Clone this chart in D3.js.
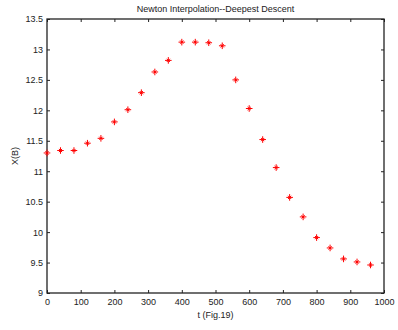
<!DOCTYPE html>
<html>
<head>
<meta charset="utf-8">
<script src="https://cdn.jsdelivr.net/npm/d3@7"></script>
<style>
  body { margin: 0; background: #fff; }
  svg text { font-family: "Liberation Sans", Arial, sans-serif; fill: #222; }
</style>
</head>
<body>
<div id="chart"></div>
<script>
// data
var tValues = [0, 40, 80, 120, 160, 200, 240, 280, 320, 360, 400, 440, 480,
               520, 560, 600, 640, 680, 720, 760, 800, 840, 880, 920, 960];
var xbValues = [11.30, 11.34, 11.34, 11.46, 11.54, 11.81, 12.01, 12.29, 12.63, 12.82, 13.12, 13.12, 13.11,
                13.06, 12.50, 12.03, 11.52, 11.06, 10.57, 10.25, 9.91, 9.74, 9.56, 9.51, 9.46];
var xTicks = [0, 100, 200, 300, 400, 500, 600, 700, 800, 900, 1000];
var yTicks = [9, 9.5, 10, 10.5, 11, 11.5, 12, 12.5, 13, 13.5];

var W = 398, H = 330;
var margin = {top: 19, right: 14, bottom: 37, left: 47};
var width = W - margin.left - margin.right,
    height = H - margin.top - margin.bottom;

var svg = d3.select("#chart").append("svg")
    .attr("width", W)
    .attr("height", H);

var g = svg.append("g")
    .attr("transform", "translate(" + margin.left + "," + margin.top + ")");

var x = d3.scaleLinear().domain([0, 1000]).range([0, width]);
var y = d3.scaleLinear().domain([9, 13.5]).range([height, 0]);

// bottom / left axes with labels, ticks pointing inward
g.append("g")
    .attr("transform", "translate(0," + height + ")")
    .call(d3.axisBottom(x).tickValues(xTicks).tickFormat(d3.format("")).tickSizeInner(-3).tickSizeOuter(0).tickPadding(6));
g.append("g")
    .call(d3.axisLeft(y).tickValues(yTicks).tickFormat(d3.format("")).tickSizeInner(-3).tickSizeOuter(0).tickPadding(4));
// top / right ticks, no labels
g.append("g")
    .call(d3.axisTop(x).tickValues(xTicks).tickSizeInner(-3).tickSizeOuter(0).tickFormat(""));
g.append("g")
    .attr("transform", "translate(" + width + ",0)")
    .call(d3.axisRight(y).tickValues(yTicks).tickSizeInner(-3).tickSizeOuter(0).tickFormat(""));

g.selectAll(".domain").remove();
g.selectAll(".tick line").attr("stroke", "#222");
g.selectAll(".tick text").style("font-size", "9px");

g.append("rect")
    .attr("width", width)
    .attr("height", height)
    .attr("fill", "none")
    .attr("stroke", "#222")
    .attr("stroke-width", 1.3);

// markers: MATLAB-style '*'
var pts = g.selectAll(".pt")
    .data(tValues.map(function(t, i){ return {t: t, v: xbValues[i]}; }))
    .enter().append("g")
    .attr("class", "pt")
    .attr("transform", function(d){ return "translate(" + x(d.t) + "," + y(d.v) + ")"; });

var r = 3.3, rd = 1.6;
pts.append("path")
    .attr("d", "M" + (-r) + ",0H" + r + "M0," + (-r) + "V" + r +
               "M" + (-rd) + "," + (-rd) + "L" + rd + "," + rd +
               "M" + (-rd) + "," + rd + "L" + rd + "," + (-rd))
    .attr("stroke", "#f00")
    .attr("stroke-width", 1)
    .attr("fill", "none");

// title and axis labels
svg.append("text")
    .attr("x", margin.left + width / 2)
    .attr("y", 12)
    .attr("text-anchor", "middle")
    .style("font-size", "9px")
    .text("Newton Interpolation--Deepest Descent");

svg.append("text")
    .attr("x", margin.left + width / 2)
    .attr("y", 318)
    .attr("text-anchor", "middle")
    .style("font-size", "9px")
    .text("t (Fig.19)");

svg.append("text")
    .attr("transform", "translate(18," + (margin.top + height / 2) + ") rotate(-90)")
    .attr("text-anchor", "middle")
    .style("font-size", "9px")
    .text("X(B)");
</script>
</body>
</html>
